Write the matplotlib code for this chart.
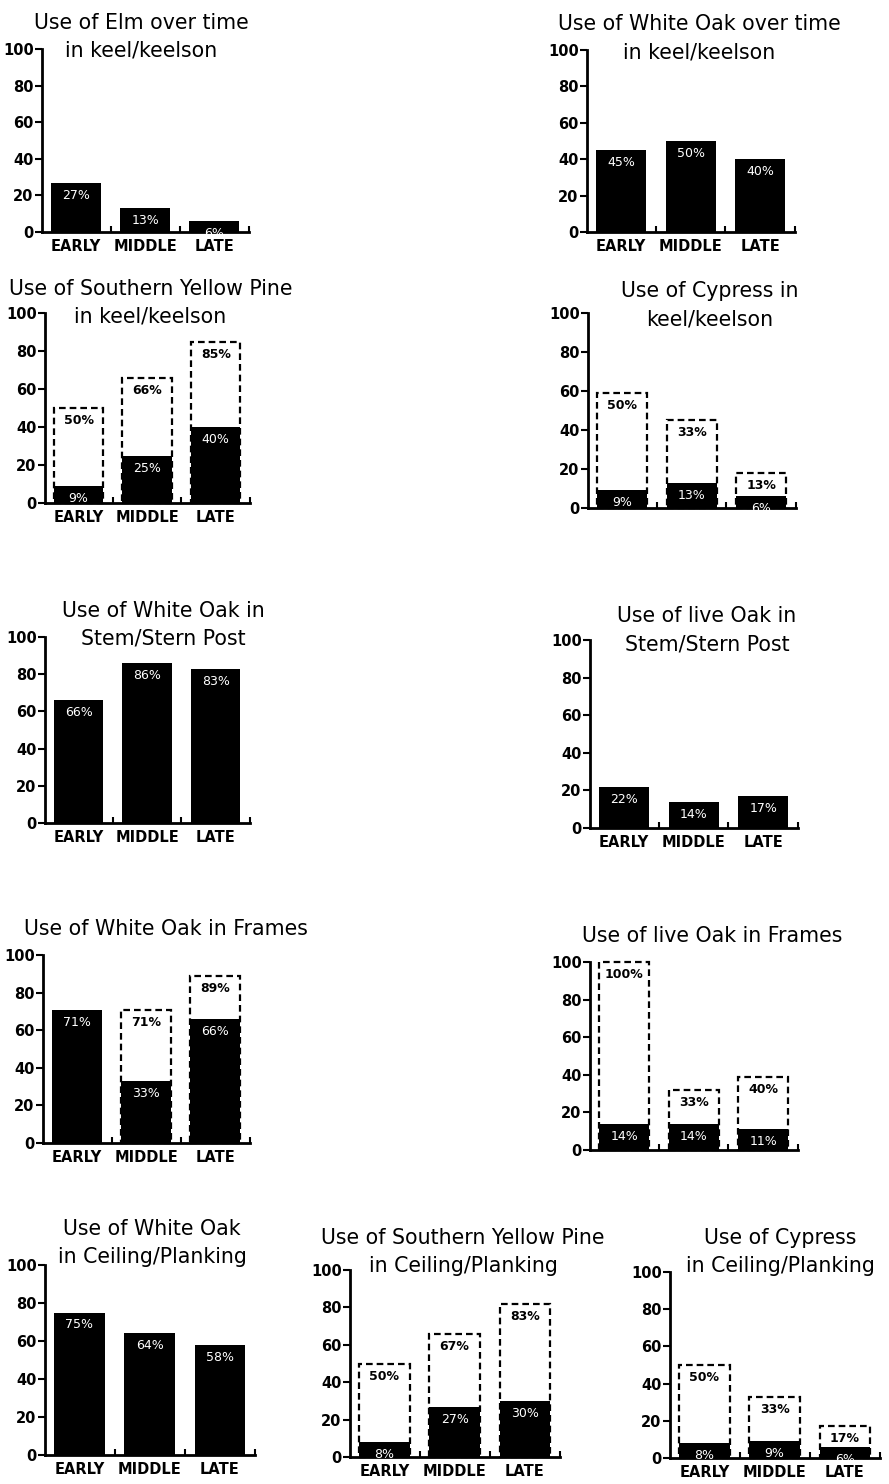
import numpy as np
import matplotlib.pyplot as plt

plt.rcParams['font.family'] = ['DejaVu Sans']

periods = ["EARLY", "MIDDLE", "LATE"]

titles = [
    "Use of Elm over time\nin keel/keelson",
    "Use of White Oak over time\nin keel/keelson",
    "Use of Southern Yellow Pine\nin keel/keelson",
    "Use of Cypress in\nkeel/keelson",
    "Use of White Oak in\nStem/Stern Post",
    "Use of live Oak in\nStem/Stern Post",
    "Use of White Oak in Frames",
    "Use of live Oak in Frames",
    "Use of White Oak\nin Ceiling/Planking",
    "Use of Southern Yellow Pine\nin Ceiling/Planking",
    "Use of Cypress\nin Ceiling/Planking",
]

# black bars (share of ships using the wood)
solid = [
    [27, 13, 6],
    [45, 50, 40],
    [9, 25, 40],
    [9, 13, 6],
    [66, 86, 83],
    [22, 14, 17],
    [71, 33, 66],
    [14, 14, 11],
    [75, 64, 58],
    [8, 27, 30],
    [8, 9, 6],
]

# dashed outline bars, height as drawn (0 = no outline bar)
dashed = [
    [0, 0, 0],
    [0, 0, 0],
    [50, 66, 85],
    [59, 45, 18],
    [0, 0, 0],
    [0, 0, 0],
    [0, 71, 89],
    [100, 32, 39],
    [0, 0, 0],
    [50, 66, 82],
    [50, 33, 17],
]

# value printed on the dashed bars
dashed_labels = [
    [0, 0, 0],
    [0, 0, 0],
    [50, 66, 85],
    [50, 33, 13],
    [0, 0, 0],
    [0, 0, 0],
    [0, 71, 89],
    [100, 33, 40],
    [0, 0, 0],
    [50, 67, 83],
    [50, 33, 17],
]

show_xlabels = [True, True, True, False, True, True, True, False, True, True, True]

# axes boxes in pixels: left, y of 100 line, y of 0 line, right
boxes = [
    (42, 49, 232, 249),
    (587, 50, 232, 795),
    (45, 313, 503, 250),
    (588, 313, 508, 796),
    (45, 637, 823, 250),
    (590, 640, 828, 798),
    (43, 955, 1143, 250),
    (590, 962, 1150, 798),
    (45, 1265, 1455, 255),
    (350, 1270, 1457, 560),
    (670, 1272, 1458, 880),
]
# title placement: x shift and baseline of last line below the axes top (px)
title_dx = [-4, 8, 3, 18, 16, 13, 19, 18, 2, 8, 5]
title_dy = [8, 8, 10, 12, 8, 10, -20, -20, -2, 2, 0]
line_step = 28

W, H = 889, 1484
fig = plt.figure(figsize=(W / 100, H / 100), dpi=100)
x = np.arange(3)
bw = 0.72

for i in range(len(titles)):
    l, t, b, r = boxes[i]
    ax = fig.add_axes([l / W, 1 - b / H, (r - l) / W, (b - t) / H])

    for xi, h, lab in zip(x, dashed[i], dashed_labels[i]):
        if h <= 0:
            continue
        ax.bar(xi, h, width=bw, fill=False, edgecolor='black', linewidth=1.6,
               linestyle=(0, (3, 1.8)), clip_on=False, zorder=2)
        ax.annotate(f"{lab}%", (xi, h), xytext=(0, -6), textcoords='offset pixels',
                    ha='center', va='top', fontsize=9, fontweight='bold')

    ax.bar(x, solid[i], width=bw, color='black', zorder=3)
    for xi, h in zip(x, solid[i]):
        ax.annotate(f"{h}%", (xi, h), xytext=(0, -6), textcoords='offset pixels',
                    ha='center', va='top', fontsize=9, color='white', zorder=4)

    ax.set_xlim(-0.49, 2.5)
    ax.set_ylim(0, 100)
    for s in ['top', 'right']:
        ax.spines[s].set_visible(False)
    for s in ['left', 'bottom']:
        ax.spines[s].set_linewidth(2)

    ax.set_yticks(np.arange(0, 101, 20))
    ax.set_yticklabels([str(v) for v in range(0, 101, 20)], fontsize=10.5, fontweight='bold')
    ax.set_yticks([100], minor=True)
    ax.tick_params(axis='y', which='major', direction='out', length=5, width=1.5, pad=1)
    ax.tick_params(axis='y', which='minor', direction='in', length=6, width=2)

    ax.set_xticks(x)
    if show_xlabels[i]:
        ax.set_xticklabels(periods, fontsize=10.5, fontweight='bold')
    else:
        ax.set_xticklabels([])
    ax.set_xticks([0.5, 1.5, 2.5], minor=True)
    ax.tick_params(axis='x', which='major', length=0, pad=5)
    ax.tick_params(axis='x', which='minor', direction='in', length=4, width=1.5)

    # title, one text per line so each line keeps its own box
    lines = titles[i].split("\n")
    for k, line in enumerate(lines):
        up = (len(lines) - 1 - k) * line_step
        ax.annotate(line, xy=(0.5, 1), xycoords='axes fraction',
                    xytext=(title_dx[i], up - title_dy[i]), textcoords='offset pixels',
                    ha='center', va='baseline', fontsize=14.8)

fig.savefig("out.png", dpi=100, facecolor='white')
